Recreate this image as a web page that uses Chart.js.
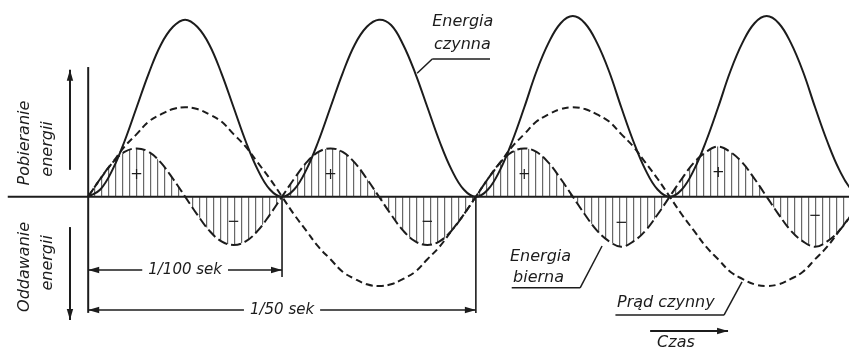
<!DOCTYPE html>
<html>
<head>
<meta charset="utf-8">
<title>Energia czynna i bierna</title>
<script src="https://cdn.jsdelivr.net/npm/chart.js@4/dist/chart.umd.min.js"></script>
<style>
  body { margin: 0; background: #fff; }
  #wrap { width: 849px; height: 354px; }
</style>
</head>
<body>
<div id="wrap"><canvas id="wykres"></canvas></div>
<script>
// czas w ms (1/100 sek = 10 ms), odczytany co 0.625 ms
const czas = [
  0, 0.625, 1.25, 1.875, 2.5, 3.125, 3.75, 4.375,
  5, 5.625, 6.25, 6.875, 7.5, 8.125, 8.75, 9.375,
  10, 10.625, 11.25, 11.875, 12.5, 13.125, 13.75, 14.375,
  15, 15.625, 16.25, 16.875, 17.5, 18.125, 18.75, 19.375,
  20, 20.625, 21.25, 21.875, 22.5, 23.125, 23.75, 24.375,
  25, 25.625, 26.25, 26.875, 27.5, 28.125, 28.75, 29.375,
  30, 30.625, 31.25, 31.875, 32.5, 33.125, 33.75, 34.375,
  35, 35.625, 36.25, 36.875, 37.5, 38.125, 38.75, 39.375,
  40
];
const energiaCzynna = [
  0, 4, 15, 31, 50, 69, 85, 95, 99, 95, 85, 69, 50, 31, 15, 4,
  0, 4, 15, 31, 50, 69, 85, 95, 99, 96, 85, 69, 50, 31, 15, 4,
  0, 4, 15, 31, 50, 70, 86, 97, 101, 97, 86, 70, 50, 31, 15, 4,
  0, 4, 15, 31, 50, 70, 86, 97, 101, 97, 86, 70, 50, 31, 15, 4,
  0
];
const pradCzynny = [
  0, 10, 19, 28, 35, 42, 46, 49, 50, 49, 46, 42, 35, 28, 19, 10,
  0, -10, -19, -28, -35, -42, -46, -49, -50, -49, -46, -42, -35, -28, -19, -10,
  0, 10, 19, 28, 35, 42, 46, 49, 50, 49, 46, 42, 35, 28, 19, 10,
  0, -10, -19, -28, -35, -42, -46, -49, -50, -49, -46, -42, -35, -28, -19, -10,
  0
];
const energiaBierna = [
  0, 10, 19, 25, 27, 25, 19, 10, 0, -10, -19, -25, -27, -25, -19, -10,
  0, 10, 19, 25, 27, 25, 19, 10, 0, -10, -19, -25, -27, -25, -19, -10,
  0, 10, 19, 25, 27, 25, 19, 10, 0, -10, -19, -25, -28, -25, -19, -10,
  0, 10, 19, 25, 28, 25, 19, 10, 0, -10, -19, -25, -28, -25, -19, -10,
  0
];
// znaki w polach zakreskowanych
const znakiCzas = [2.5, 7.5, 12.5, 17.5, 22.5, 27.5, 32.5, 37.5];
const znakiWartosc = [12, -14, 12, -14, 12, -15, 13, -11];
const znaki = ['+', '−', '+', '−', '+', '−', '+', '−'];

const kolor = '#1c1c1c';
const font = 'italic 16px "DejaVu Sans", sans-serif';

const canvas = document.getElementById('wykres');

// kreskowanie pionowe pod energią bierną
function kreskowanie() {
  const c = document.createElement('canvas');
  c.width = 7; c.height = 4;
  const g = c.getContext('2d');
  g.fillStyle = 'rgba(40,40,40,0.7)';
  g.fillRect(3, 0, 1.2, 4);
  return canvas.getContext('2d').createPattern(c, 'repeat');
}

function linia(ctx, x1, y1, x2, y2) {
  ctx.beginPath(); ctx.moveTo(x1, y1); ctx.lineTo(x2, y2); ctx.stroke();
}

function grot(ctx, x1, y1, x2, y2, dl = 11, sz = 3.2) {
  const a = Math.atan2(y2 - y1, x2 - x1);
  ctx.beginPath();
  ctx.moveTo(x2, y2);
  ctx.lineTo(x2 - dl * Math.cos(a) + sz * Math.sin(a), y2 - dl * Math.sin(a) - sz * Math.cos(a));
  ctx.lineTo(x2 - dl * Math.cos(a) - sz * Math.sin(a), y2 - dl * Math.sin(a) + sz * Math.cos(a));
  ctx.closePath(); ctx.fill();
}

function strzalka(ctx, x1, y1, x2, y2) {
  linia(ctx, x1, y1, x2, y2);
  grot(ctx, x1, y1, x2, y2);
}

function wymiar(ctx, xa, xb, yy, tekst) {
  const xm = (xa + xb) / 2;
  const w = ctx.measureText(tekst).width;
  ctx.fillText(tekst, xm, yy);
  linia(ctx, xa, yy, xm - w / 2 - 6, yy);
  linia(ctx, xm + w / 2 + 6, yy, xb, yy);
  grot(ctx, xb, yy, xa, yy);
  grot(ctx, xa, yy, xb, yy);
}

function pionowy(ctx, px, py, tekst) {
  ctx.save();
  ctx.translate(px, py);
  ctx.rotate(-Math.PI / 2);
  ctx.fillText(tekst, 0, 0);
  ctx.restore();
}

const rysunek = {
  id: 'rysunek',
  beforeDatasetsDraw(chart) {
    const { ctx, scales: { x, y } } = chart;
    const X = v => x.getPixelForValue(v), Y = v => y.getPixelForValue(v);
    ctx.save();
    ctx.strokeStyle = kolor;
    ctx.lineWidth = 2;
    linia(ctx, X(-4.15), Y(0), chart.width, Y(0));
    linia(ctx, X(0), Y(72.5), X(0), Y(-65));
    ctx.lineWidth = 1.6;
    linia(ctx, X(10), Y(0), X(10), Y(-45));
    linia(ctx, X(20), Y(0), X(20), Y(-65));
    ctx.restore();
  },
  afterDatasetsDraw(chart) {
    const { ctx, scales: { x, y } } = chart;
    const X = v => x.getPixelForValue(v), Y = v => y.getPixelForValue(v);
    ctx.save();
    ctx.strokeStyle = kolor;
    ctx.fillStyle = kolor;
    ctx.lineWidth = 1.5;
    ctx.font = font;
    ctx.textBaseline = 'middle';

    // znaki + / −
    ctx.textAlign = 'center';
    ctx.font = '15px "DejaVu Sans", sans-serif';
    znaki.forEach((z, i) => ctx.fillText(z, X(znakiCzas[i]), Y(znakiWartosc[i])));
    ctx.font = font;

    // opisy osi pionowej
    pionowy(ctx, X(-3.26), Y(30), 'Pobieranie');
    pionowy(ctx, X(-2.07), Y(26.7), 'energii');
    pionowy(ctx, X(-3.26), Y(-39.3), 'Oddawanie');
    pionowy(ctx, X(-2.07), Y(-37), 'energii');
    ctx.lineWidth = 2;
    strzalka(ctx, X(-0.94), Y(15), X(-0.94), Y(71));
    strzalka(ctx, X(-0.94), Y(-17), X(-0.94), Y(-69));

    // wymiary okresów
    ctx.lineWidth = 1.5;
    ctx.font = 'italic 15px "DejaVu Sans", sans-serif';
    wymiar(ctx, X(0), X(10), Y(-41), '1/100 sek');
    wymiar(ctx, X(0), X(20), Y(-63.4), '1/50 sek');
    ctx.font = font;

    // Energia czynna
    ctx.textAlign = 'left';
    ctx.fillText('Energia', X(17.75), Y(97.7));
    ctx.fillText('czynna', X(17.84), Y(85));
    linia(ctx, X(17.75), Y(77), X(20.73), Y(77));
    linia(ctx, X(17.75), Y(77), X(16.97), Y(69));

    // Energia bierna
    ctx.fillText('Energia', X(21.76), Y(-33.7));
    ctx.fillText('bierna', X(21.92), Y(-45.5));
    linia(ctx, X(21.85), Y(-51), X(25.38), Y(-51));
    linia(ctx, X(25.38), Y(-51), X(26.51), Y(-27.6));

    // Prąd czynny
    ctx.fillText('Prąd czynny', X(27.28), Y(-59.5));
    linia(ctx, X(27.2), Y(-66.2), X(32.8), Y(-66.2));
    linia(ctx, X(32.8), Y(-66.2), X(33.73), Y(-47.7));

    // Czas
    ctx.lineWidth = 2;
    strzalka(ctx, X(28.99), Y(-75.1), X(33.01), Y(-75.1));
    ctx.fillText('Czas', X(29.35), Y(-81.8));
    ctx.restore();
  }
};

const seria = v => czas.map((t, i) => ({ x: t, y: v[i] }));

new Chart(canvas, {
  type: 'line',
  data: {
    datasets: [
      {
        label: 'Energia czynna',
        data: seria(energiaCzynna),
        borderColor: kolor,
        borderWidth: 2,
        fill: false
      },
      {
        label: 'Prąd czynny',
        data: seria(pradCzynny),
        borderColor: kolor,
        borderWidth: 2,
        borderDash: [7, 4],
        fill: false
      },
      {
        label: 'Energia bierna',
        data: seria(energiaBierna),
        borderColor: kolor,
        borderWidth: 2,
        borderDash: [10, 4],
        backgroundColor: kreskowanie(),
        fill: 'origin'
      }
    ]
  },
  options: {
    responsive: true,
    maintainAspectRatio: false,
    animation: false,
    layout: { padding: 0 },
    elements: { point: { radius: 0 }, line: { tension: 0.4 } },
    plugins: { legend: { display: false }, tooltip: { enabled: false } },
    scales: {
      x: { type: 'linear', min: -4.55, max: 39.25, display: false },
      y: { min: -88, max: 110, display: false }
    }
  },
  plugins: [rysunek]
});
</script>
</body>
</html>
